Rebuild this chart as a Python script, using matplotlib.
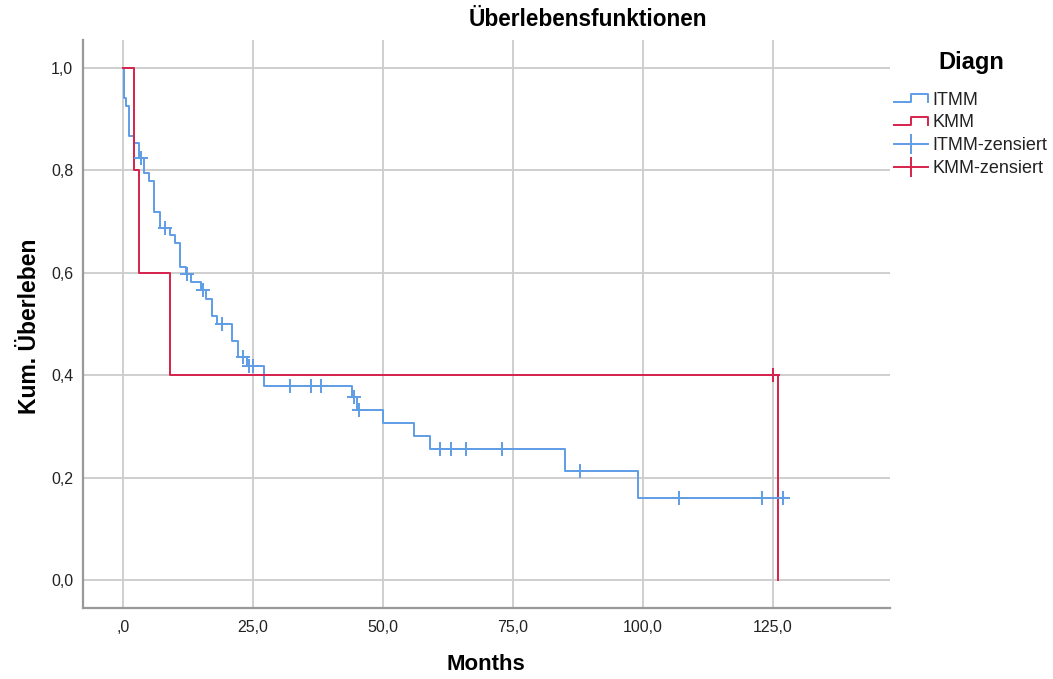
import numpy as np
import matplotlib
matplotlib.use("Agg")
import matplotlib.pyplot as plt
from matplotlib.lines import Line2D
from matplotlib.legend_handler import HandlerBase

plt.rcParams['font.family'] = ['Liberation Sans', 'DejaVu Sans']

# ---- data ----
itmm_times = [0, 0.15, 0.6, 1.1, 2.0, 3.1, 4.0, 5.0, 6.0, 7.1, 9.0, 10.0, 11.0,
              12.0, 13.0, 15.0, 16.0, 17.0, 18.0, 21.0, 22.0, 23.8, 27.0, 44.0,
              45.0, 50.0, 56.0, 59.0, 85.0, 99.0]
itmm_surv = [1.0, 0.941, 0.926, 0.868, 0.853, 0.824, 0.794, 0.779, 0.718, 0.688,
             0.673, 0.658, 0.612, 0.598, 0.582, 0.566, 0.549, 0.516, 0.500, 0.467,
             0.436, 0.418, 0.378, 0.357, 0.333, 0.307, 0.281, 0.256, 0.213, 0.160]
itmm_censor = [3.4, 8.0, 12.3, 15.3, 19.0, 23.0, 24.2, 25.0, 32.0, 36.1, 38.0,
               44.5, 45.4, 61.0, 63.0, 66.0, 73.0, 88.0, 107.0, 123.0, 127.0]

kmm_times = [0, 2.0, 3.1, 9.0, 126.0]
kmm_surv = [1.0, 0.8, 0.6, 0.4, 0.0]
kmm_censor = [125.1]

x_ticks = [0, 25, 50, 75, 100, 125]
x_ticklabels = [",0", "25,0", "50,0", "75,0", "100,0", "125,0"]
y_ticks = [0.0, 0.2, 0.4, 0.6, 0.8, 1.0]
y_ticklabels = ["0,0", "0,2", "0,4", "0,6", "0,8", "1,0"]

blue = '#5f9de6'
red = '#d7224c'


def surv_at(times, surv, t):
    idx = np.searchsorted(np.asarray(times), np.asarray(t), side='right') - 1
    return np.asarray(surv)[idx]


W, H = 1053, 679
fig = plt.figure(figsize=(W / 100, H / 100), dpi=100)
ax = fig.add_axes([83 / W, 1 - 608 / H, (890 - 83) / W, (608 - 40) / H])

ax.set_xlim(-7.76, 147.6)
ax.set_ylim(-0.0547, 1.0547)
ax.set_xticks(x_ticks)
ax.set_xticklabels(x_ticklabels)
ax.set_yticks(y_ticks)
ax.set_yticklabels(y_ticklabels)
ax.tick_params(axis='both', length=0, labelsize=11.5, colors='#222222')
ax.tick_params(axis='x', pad=9)
ax.tick_params(axis='y', pad=7)
ax.grid(True, color='#cccccc', lw=1.3)
ax.set_axisbelow(True)
for s in ['top', 'right']:
    ax.spines[s].set_visible(False)
for s in ['left', 'bottom']:
    ax.spines[s].set_color('#999999')
    ax.spines[s].set_linewidth(1.6)

# ITMM curve (extend to last censor)
it_x = list(itmm_times) + [max(itmm_censor)]
it_y = list(itmm_surv) + [itmm_surv[-1]]
ax.step(it_x, it_y, where='post', color=blue, lw=1.4, zorder=3)
ax.plot(itmm_censor, surv_at(itmm_times, itmm_surv, itmm_censor), ls='none',
        marker='+', ms=10, mew=1.4, color=blue, zorder=4)

ax.step(kmm_times, kmm_surv, where='post', color=red, lw=1.4, zorder=3)
ax.plot(kmm_censor, surv_at(kmm_times, kmm_surv, kmm_censor), ls='none',
        marker='+', ms=10, mew=1.4, color=red, zorder=4)

fig.text(588 / W, 1 - 20 / H, "Überlebensfunktionen", ha='center', va='center',
         fontsize=16.3, fontweight='bold')
fig.text(486 / W, 1 - 665 / H, "Months", ha='center', va='center',
         fontsize=16, fontweight='bold')
fig.text(30 / W, 1 - 326 / H, "Kum. Überleben", ha='center', va='center',
         rotation=90, fontsize=16.5, fontweight='bold')


class HandlerStep(HandlerBase):
    def create_artists(self, legend, orig_handle, xdescent, ydescent, width,
                       height, fontsize, trans):
        x0 = -xdescent
        ylo = -ydescent + 0.2 * height
        yhi = -ydescent + 0.85 * height
        xs = [x0, x0 + 0.5 * width, x0 + 0.5 * width, x0 + width, x0 + width]
        ys = [ylo, ylo, yhi, yhi, ylo]
        ln = Line2D(xs, ys, color=orig_handle.get_color(),
                    lw=orig_handle.get_linewidth())
        ln.set_transform(trans)
        return [ln]


h_itmm = Line2D([], [], color=blue, lw=1.4)
h_kmm = Line2D([], [], color=red, lw=1.4)
h_itmm_c = Line2D([], [], color=blue, lw=1.4, marker='|', ms=14, mew=1.4)
h_kmm_c = Line2D([], [], color=red, lw=1.4, marker='|', ms=14, mew=1.4)

fig.text(971 / W, 1 - 62 / H, "Diagn", ha='center', va='center',
         fontsize=17, fontweight='bold')
leg = fig.legend([h_itmm, h_kmm, h_itmm_c, h_kmm_c],
                 ["ITMM", "KMM", "ITMM-zensiert", "KMM-zensiert"],
                 handler_map={h_itmm: HandlerStep(), h_kmm: HandlerStep()},
                 loc='upper left', bbox_to_anchor=(881 / W, 1 - 79 / H),
                 frameon=False, fontsize=13,
                 handlelength=1.9, handletextpad=0.25, labelspacing=0.32,
                 borderpad=0.2, numpoints=1)
for t in leg.get_texts():
    t.set_color('#222222')

fig.savefig("out.png", dpi=100)
